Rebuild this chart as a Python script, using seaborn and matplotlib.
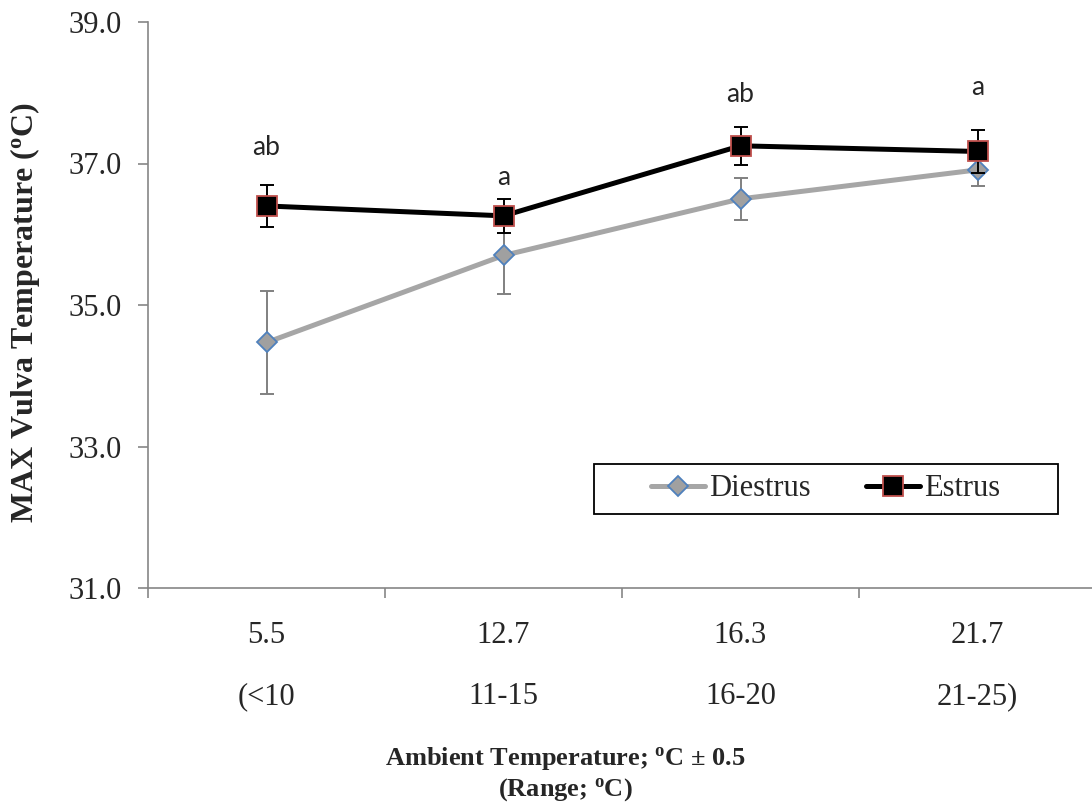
import matplotlib
matplotlib.use('Agg')
import matplotlib.pyplot as plt
from matplotlib.patches import Rectangle
import seaborn as sns
import pandas as pd

# Chart values
CATEGORIES = ['5.5\n(<10', '12.7\n11-15', '16.3\n16-20', '21.7\n21-25)']
DIESTRUS_MEAN = [34.47, 35.70, 36.50, 36.91]
DIESTRUS_SE = [0.73, 0.55, 0.30, 0.23]
ESTRUS_MEAN = [36.40, 36.26, 37.25, 37.17]
ESTRUS_SE = [0.30, 0.24, 0.27, 0.30]
LETTERS = ['ab', 'a', 'ab', 'a']
LETTER_Y = [37.12, 36.70, 37.87, 37.97]
Y_TICKS = [31, 33, 35, 37, 39]

sns.set_style('ticks')
plt.rcParams['font.family'] = ['Liberation Serif', 'DejaVu Serif']
plt.rcParams['mathtext.default'] = 'regular'

AXIS_GRAY = '#868686'

df = pd.concat([
    pd.DataFrame({'cat': CATEGORIES, 'temp': DIESTRUS_MEAN, 'se': DIESTRUS_SE, 'phase': 'Diestrus'}),
    pd.DataFrame({'cat': CATEGORIES, 'temp': ESTRUS_MEAN, 'se': ESTRUS_SE, 'phase': 'Estrus'}),
])

styles = {
    'Diestrus': dict(color='#A6A6A6', marker='D', ms=10.5, mfc='#A0A0A0', mec='#4F81BD', err='#808080', z=2),
    'Estrus': dict(color='black', marker='s', ms=14, mfc='black', mec='#C0504D', err='black', z=4),
}

fig = plt.figure(figsize=(10.92, 8.09), dpi=100)
ax = fig.add_axes([148 / 1092, 1 - 588 / 809, (1092 - 148) / 1092, 566 / 809])

for phase, st in styles.items():
    sub = df[df['phase'] == phase]
    ax.errorbar(sub['cat'], sub['temp'], yerr=sub['se'], fmt='none', ecolor=st['err'],
                elinewidth=1.4, capsize=5, capthick=1.4, zorder=st['z'] - 1)
    sns.lineplot(data=sub, x='cat', y='temp', ax=ax, color=st['color'], linewidth=3.6,
                 marker=st['marker'], markersize=st['ms'], markerfacecolor=st['mfc'],
                 markeredgecolor=st['mec'], markeredgewidth=1.3, errorbar=None,
                 sort=False, label=phase, zorder=st['z'])

# significance letters
for i, (lt, yv) in enumerate(zip(LETTERS, LETTER_Y)):
    ax.text(CATEGORIES[i], yv, lt, ha='center', va='baseline', fontsize=19,
            family=['Lato', 'DejaVu Sans'])

ax.set_ylim(Y_TICKS[0], Y_TICKS[-1])
ax.set_yticks(Y_TICKS)
ax.set_yticklabels([f'{v:.1f}' for v in Y_TICKS], fontsize=22)
ax.set_xlim(-0.5, -0.5 + (1092 - 148) / 237)

ax.set_xticks(range(len(CATEGORIES)))
ax.set_xticklabels(CATEGORIES, fontsize=22)
for t in ax.get_xticklabels():
    t.set_linespacing(2.45)
ax.set_xticks([i - 0.5 for i in range(len(CATEGORIES))], minor=True)
ax.tick_params(axis='x', which='major', length=0, pad=24)
ax.tick_params(axis='x', which='minor', length=7, width=1.2, color=AXIS_GRAY)
ax.tick_params(axis='y', length=7, width=1.2, color=AXIS_GRAY, pad=12)

for side in ['top', 'right']:
    ax.spines[side].set_visible(False)
for side in ['left', 'bottom']:
    ax.spines[side].set_color(AXIS_GRAY)
    ax.spines[side].set_linewidth(1.2)

ax.set_ylabel('MAX Vulva Temperature ($^{o}$C)', fontsize=23, fontweight='bold')
ax.yaxis.set_label_coords(-0.112, 0.486)
ax.set_xlabel('Ambient Temperature; $^{o}$C ± 0.5\n(Range; $^{o}$C)', fontsize=19,
              fontweight='bold', linespacing=1.2)
ax.xaxis.set_label_coords(0.442, -0.277)

# legend with a separate frame box
ax.legend(loc='center', bbox_to_anchor=(0.718, 0.175), frameon=False, ncol=2,
          fontsize=22, handlelength=1.75, handletextpad=0.15, columnspacing=1.8)
ax.add_patch(Rectangle((0.4725, 0.1307), 0.4915, 0.0883, transform=ax.transAxes,
                       fill=False, edgecolor='black', linewidth=1.3, zorder=5))

fig.savefig('out.png', dpi=100)
